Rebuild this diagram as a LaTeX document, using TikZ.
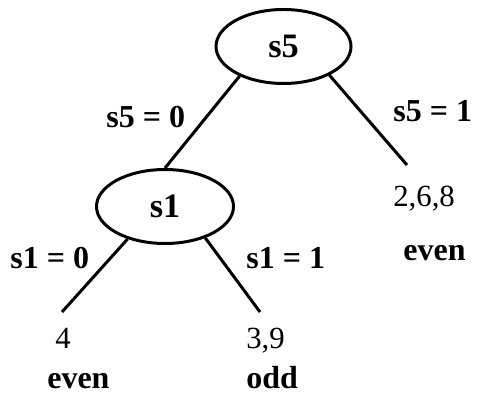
\documentclass[tikz,border=0pt]{standalone}
\usepackage{fontspec}
\setmainfont{Liberation Serif}
\usetikzlibrary{shapes.geometric}
\tikzset{
  test/.style  = {draw, ellipse, line width=1.7pt, inner sep=0pt,
                  minimum width=2.7cm, minimum height=1.48cm,
                  font=\fontsize{19.5}{23}\selectfont\bfseries},
  lbl/.style   = {anchor=base west, inner sep=0pt,
                  font=\fontsize{18.2}{22}\selectfont\bfseries},
  leaf/.style  = {anchor=base west, inner sep=0pt,
                  font=\fontsize{17.5}{21}\selectfont},
  cls/.style   = {lbl},
  br/.style    = {line width=1.7pt},
}
\begin{document}
\begin{tikzpicture}
\useasboundingbox (0,0) rectangle (9.54,-7.92);
% tests
\node[test] (s5) at (5.67,-0.93) {s5};
\node[test, minimum width=2.74cm] (s1) at (3.30,-4.13) {s1};
% branch labels
\node[lbl] (s5zero) at (2.12,-2.56) {s5 = 0};
\node[lbl] (s5one)  at (7.86,-2.44) {s5 = 1};
\node[lbl] (s1zero) at (0.20,-5.36) {s1 = 0};
\node[lbl] (s1one)  at (4.92,-5.36) {s1 = 1};
% leaves
\coordinate (e268) at (8.14,-3.30);
\coordinate (e4)   at (1.24,-6.24);
\coordinate (e39)  at (5.20,-6.24);
\node[leaf] (l268) at (7.86,-4.14) {2,6,8};
\node[leaf] (l4)   at (1.10,-6.96) {4};
\node[leaf] (l39)  at (4.92,-6.96) {3,9};
\node[cls] (c268) at (8.06,-5.20) {even};
\node[cls] (c4)   at (0.94,-7.76) {even};
\node[cls] (c39)  at (4.92,-7.76) {odd};
% branches
\draw[br] (s5.214) -- (s1.north);
\draw[br] (s5.328) -- (e268);
\draw[br] (s1.221) -- (e4);
\draw[br] (s1.322) -- (e39);
\end{tikzpicture}
\end{document}
